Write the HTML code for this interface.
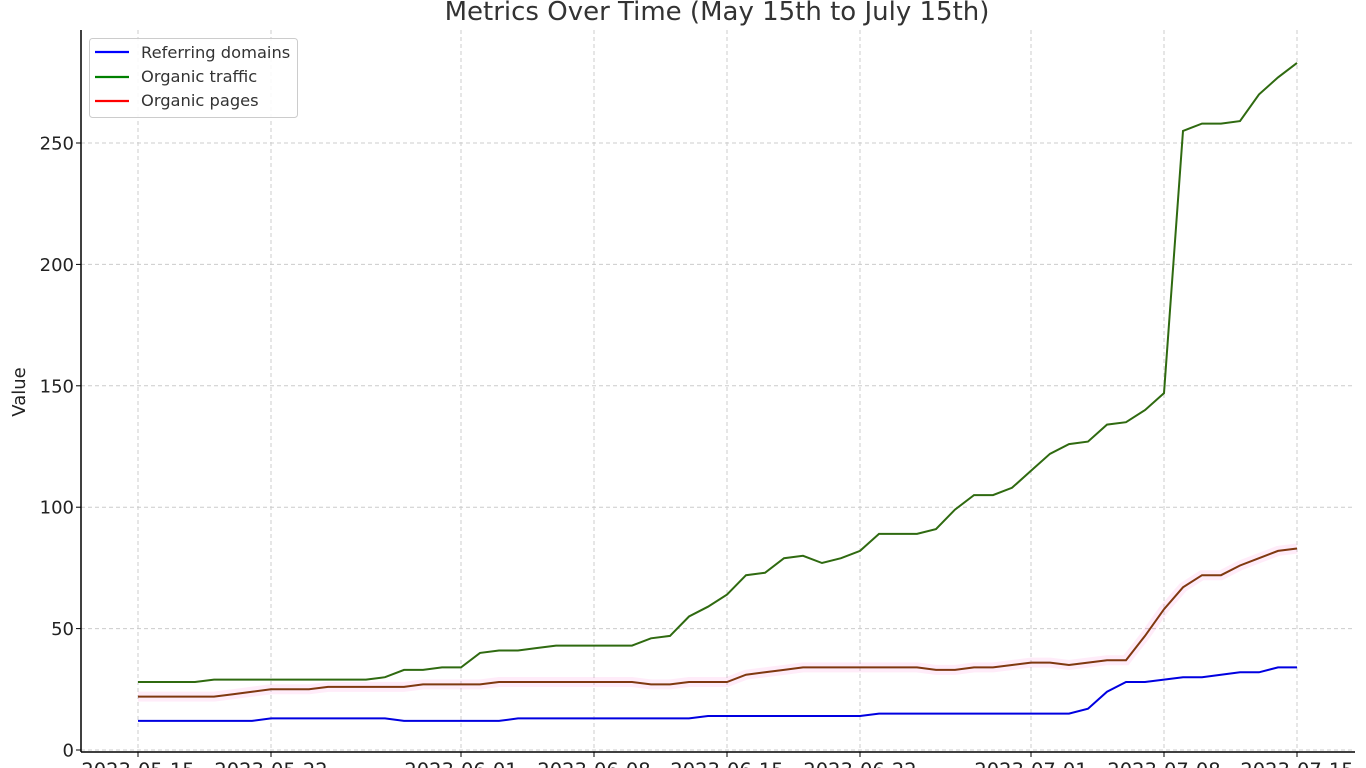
<!DOCTYPE html>
<html><head><meta charset="utf-8"><style>
body{margin:0;background:#fff;}
svg{display:block;font-family:"DejaVu Sans","Liberation Sans",sans-serif;}
</style></head><body>
<svg id="chart" width="1366" height="768" viewBox="0 0 1366 768">
<text x="717" y="20" text-anchor="middle" font-size="26" fill="#333">Metrics Over Time (May 15th to July 15th)</text>
<text transform="translate(25,392) rotate(-90)" text-anchor="middle" font-size="18" fill="#222">Value</text>
<g id="grid"></g><g id="series"></g><g id="axes"></g>
<g>
<rect x="89.5" y="38.5" width="208" height="79" rx="3" fill="#fff" fill-opacity="0.85" stroke="#ccc"/>
<line x1="95" y1="52" x2="129" y2="52" stroke="#0000ff" stroke-width="2.2"/>
<text x="141" y="58" font-size="16.3" fill="#333">Referring domains</text>
<line x1="95" y1="77" x2="129" y2="77" stroke="#008000" stroke-width="2.2"/>
<text x="141" y="82" font-size="16.3" fill="#333">Organic traffic</text>
<line x1="95" y1="101" x2="129" y2="101" stroke="#ff0000" stroke-width="2.2"/>
<text x="141" y="106" font-size="16.3" fill="#333">Organic pages</text>
</g>
</svg>
<script>
const startDate = "2023-05-15";
const xTickLabels = ["2023-05-15","2023-05-22","2023-06-01","2023-06-08","2023-06-15","2023-06-22","2023-07-01","2023-07-08","2023-07-15"];
const yTicks = [0,50,100,150,200,250];
const referringDomains = [12,12,12,12,12,12,12,13,13,13,13,13,13,13,12,12,12,12,12,12,13,13,13,13,13,13,13,13,13,13,14,14,14,14,14,14,14,14,14,15,15,15,15,15,15,15,15,15,15,15,17,24,28,28,29,30,30,31,32,32,34,34];
const organicTraffic = [28,28,28,28,29,29,29,29,29,29,29,29,29,30,33,33,34,34,40,41,41,42,43,43,43,43,43,46,47,55,59,64,72,73,79,80,77,79,82,89,89,89,91,99,105,105,108,115,122,126,127,134,135,140,147,255,258,258,259,270,277,283];
const organicPages = [22,22,22,22,22,23,24,25,25,25,26,26,26,26,26,27,27,27,27,28,28,28,28,28,28,28,28,27,27,28,28,28,31,32,33,34,34,34,34,34,34,34,33,33,34,34,35,36,36,35,36,37,37,47,58,67,72,72,76,79,82,83];

const NS="http://www.w3.org/2000/svg";
const X0=81,X1=1355,Y0=752,YT=30;
const d0=Date.parse(startDate);
function xDay(i){return 138+i*19.0;}
function xDate(s){return xDay((Date.parse(s)-d0)/86400000);}
function yVal(v){return 750-v*2.428;}
function mk(tag,attrs,parent){const e=document.createElementNS(NS,tag);for(const k in attrs)e.setAttribute(k,attrs[k]);parent.appendChild(e);return e;}
const grid=document.getElementById('grid'),axes=document.getElementById('axes'),ser=document.getElementById('series');
yTicks.forEach(v=>{
  const y=yVal(v);
  const g=mk('line',{x1:X0,x2:X1,y1:y,y2:y,stroke:'#ccc','stroke-dasharray':'4,3','stroke-width':1},grid);
  
  
  mk('line',{x1:X0-5,x2:X0,y1:y,y2:y,stroke:'#000','stroke-width':1},axes);
  const t=mk('text',{x:X0-7,y:y+6.5,'text-anchor':'end','font-size':18,fill:'#222'},axes);
  t.textContent=v;
  
  
});
xTickLabels.forEach(s=>{
  const x=xDate(s);
  const g=mk('line',{x1:x,x2:x,y1:YT,y2:Y0,stroke:'#ccc','stroke-dasharray':'4,3','stroke-width':1},grid);
  
  
  mk('line',{x1:x,x2:x,y1:Y0,y2:Y0+5,stroke:'#000','stroke-width':1},axes);
  const t=mk('text',{x:x,y:777,'text-anchor':'middle','font-size':19.5,fill:'#222'},axes);
  t.textContent=s;
  
  
});
mk('line',{x1:X0,x2:X0,y1:YT,y2:Y0,stroke:'#000','stroke-width':1.5},axes);
mk('line',{x1:X0,x2:X1,y1:Y0,y2:Y0,stroke:'#000','stroke-width':1.5},axes);
function pts(arr){return arr.map((v,i)=>xDay(i).toFixed(1)+','+yVal(v).toFixed(1)).join(' ');}
const h1=mk('polyline',{points:pts(organicPages),fill:'none',stroke:'#ff66cc','stroke-opacity':0.12,'stroke-width':10},ser);


const l1=mk('polyline',{points:pts(referringDomains),fill:'none',stroke:'#0000e0','stroke-width':2},ser);


const l2=mk('polyline',{points:pts(organicTraffic),fill:'none',stroke:'#2f6a10','stroke-width':2},ser);


const l3=mk('polyline',{points:pts(organicPages),fill:'none',stroke:'#7f3810','stroke-width':2},ser);


</script>
</body></html>
